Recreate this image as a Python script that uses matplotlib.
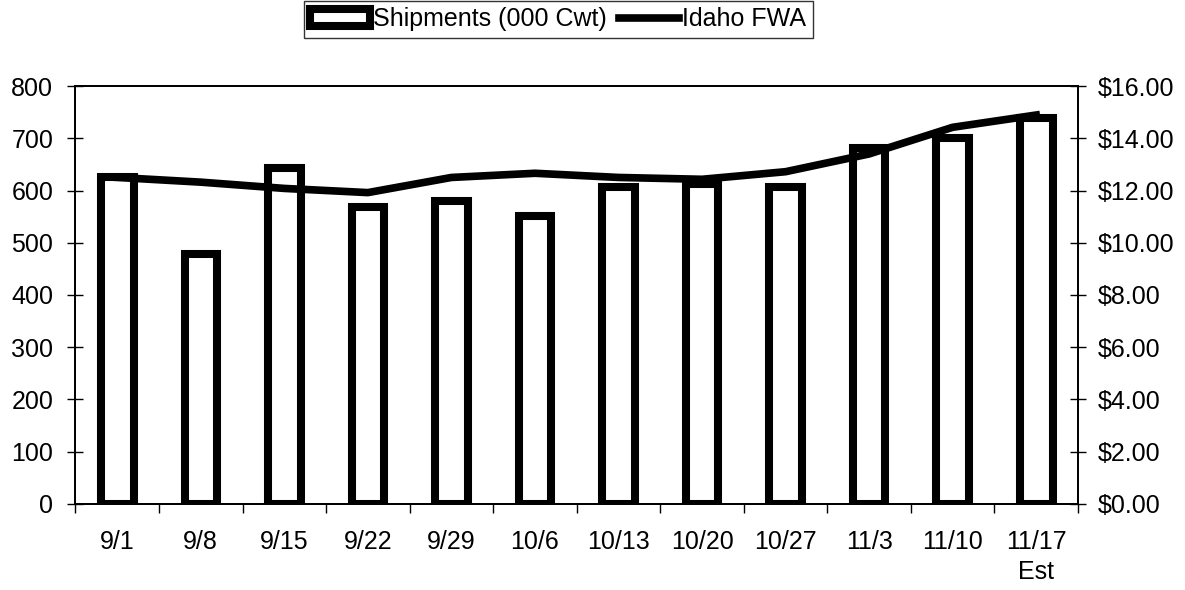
import numpy as np
import matplotlib
matplotlib.use("Agg")
import matplotlib.pyplot as plt
from matplotlib.ticker import FuncFormatter, FixedLocator

plt.rcParams['font.family'] = ['Liberation Sans', 'DejaVu Sans']

# data
minggu = ['9/1', '9/8', '9/15', '9/22', '9/29', '10/6', '10/13', '10/20',
          '10/27', '11/3', '11/10', '11/17\nEst']
shipments = [625, 478, 643, 569, 580, 552, 607, 612, 607, 682, 700, 739]
idaho_fwa = [12.50, 12.32, 12.08, 11.92, 12.50, 12.66, 12.50, 12.43,
             12.72, 13.40, 14.42, 14.89]

fig, ax1 = plt.subplots(figsize=(11.85, 5.9), dpi=100)
fig.subplots_adjust(left=0.0637, right=0.9097, top=0.8542, bottom=0.1458)

x = np.arange(len(minggu))

# bars (shipments) on left axis
bars = ax1.bar(x, shipments, width=0.39, facecolor='white', edgecolor='black',
               linewidth=5.8, label='Shipments (000 Cwt)', zorder=2)
ax1.set_ylim(0, 800)
ax1.set_xlim(-0.5, len(minggu) - 0.5)
ax1.set_yticks(range(0, 801, 100))
ax1.tick_params(axis='y', direction='inout', length=12, width=1, pad=10, labelsize=18)

# category labels at centre, tick marks at boundaries
ax1.set_xticks(x)
ax1.set_xticklabels(minggu, fontsize=18, va='top', linespacing=1.3)
ax1.tick_params(axis='x', which='major', length=0, pad=19)
ax1.xaxis.set_minor_locator(FixedLocator(np.arange(-0.5, len(minggu), 1.0)))
ax1.tick_params(axis='x', which='minor', direction='out', length=6.5, width=1)

# line (price) on right axis
ax2 = ax1.twinx()
garis, = ax2.plot(x, idaho_fwa, color='black', linewidth=5.5, label='Idaho FWA',
                  solid_joinstyle='round', zorder=3)
ax2.set_ylim(0, 16)
ax2.set_yticks(range(0, 17, 2))
ax2.yaxis.set_major_formatter(FuncFormatter(lambda v, p: f'${v:.2f}'))
ax2.tick_params(axis='y', direction='inout', length=12, width=1, pad=8.5, labelsize=18)

for a in (ax1, ax2):
    for s in a.spines.values():
        s.set_linewidth(1.3)
        s.set_color('black')

leg = fig.legend(handles=[bars, garis], loc='upper center', bbox_to_anchor=(0.471, 0.998),
                 ncol=2, fontsize=18, frameon=True, fancybox=False, edgecolor='black',
                 handlelength=2.4, handletextpad=0.12, columnspacing=0.5,
                 borderpad=0.25, borderaxespad=0)
leg.get_frame().set_linewidth(1.0)

fig.savefig('out.png', dpi=100)
